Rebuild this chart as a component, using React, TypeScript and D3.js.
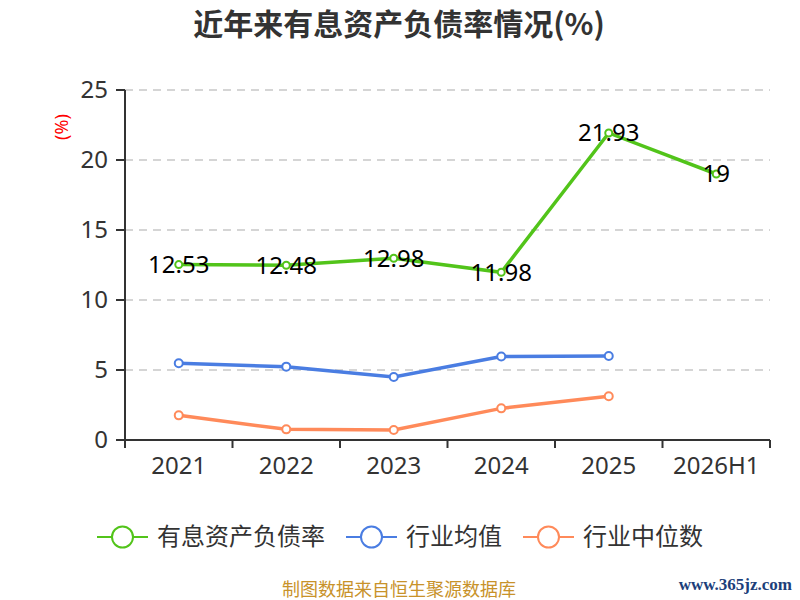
import * as d3 from "d3";

const categories = ["2021", "2022", "2023", "2024", "2025", "2026H1"];
const debtRatio = [12.53, 12.48, 12.98, 11.98, 21.93, 19];
const industryMean = [5.48, 5.24, 4.5, 5.96, 6.0];
const industryMedian = [1.76, 0.76, 0.71, 2.26, 3.12];
const yTicks = [0, 5, 10, 15, 20, 25];

const seriesNames = ["有息资产负债率", "行业均值", "行业中位数"];
const colors = ["#52c41a", "#4a7de2", "#ff8a5a"];

const width = 800;
const height = 600;
const margin = { top: 90, right: 30, bottom: 160, left: 125 };
const font = "'Noto Sans', 'Noto Sans CJK SC', sans-serif";
const cjk = "'Noto Sans CJK SC', 'Noto Sans', sans-serif";

export default function App() {
  const x = d3
    .scaleBand<string>()
    .domain(categories)
    .range([margin.left, width - margin.right]);
  const y = d3
    .scaleLinear()
    .domain([0, 25])
    .range([height - margin.bottom, margin.top]);
  const cx = (i: number) => (x(categories[i]) ?? 0) + x.bandwidth() / 2;

  const line = d3
    .line<number>()
    .x((_, i) => cx(i))
    .y((d) => y(d));

  const series = [debtRatio, industryMean, industryMedian];
  const x0 = margin.left;
  const x1 = width - margin.right;
  const yBase = y(0);

  const legendX = [97, 346, 523];

  return (
    <svg
      width={width}
      height={height}
      style={{ position: "fixed", left: 0, top: 0, background: "#fff" }}
    >
      <text
        x={399}
        y={35}
        textAnchor="middle"
        fontFamily={cjk}
        fontWeight="bold"
        fontSize={30}
        fill="#333"
      >
        近年来有息资产负债率情况(%)
      </text>

      {/* grid */}
      {yTicks
        .filter((t) => t > 0)
        .map((t) => (
          <line
            key={t}
            x1={x0}
            x2={x1}
            y1={y(t)}
            y2={y(t)}
            stroke="#c8c8c8"
            strokeWidth={1.5}
            strokeDasharray="8,6"
          />
        ))}

      {/* y axis */}
      <line x1={x0} x2={x0} y1={y(25)} y2={yBase} stroke="#333" strokeWidth={2} />
      {yTicks.map((t) => (
        <g key={t}>
          <line x1={x0 - 9} x2={x0} y1={y(t)} y2={y(t)} stroke="#333" strokeWidth={2} />
          <text
            x={x0 - 17}
            y={y(t)}
            dy="0.35em"
            textAnchor="end"
            fontFamily={font}
            fontSize={24}
            fill="#333"
          >
            {t}
          </text>
        </g>
      ))}
      <text
        transform={`translate(68,127) rotate(-90)`}
        textAnchor="middle"
        fontFamily={font}
        fontSize={18}
        fill="#ff0000"
      >
        (%)
      </text>

      {/* x axis */}
      <line x1={x0} x2={x1} y1={yBase} y2={yBase} stroke="#333" strokeWidth={2} />
      {[...categories.map((c) => x(c) ?? 0), x1].map((p, i) => (
        <line key={i} x1={p} x2={p} y1={yBase} y2={yBase + 8} stroke="#333" strokeWidth={2} />
      ))}
      {categories.map((c, i) => (
        <text
          key={c}
          x={cx(i)}
          y={yBase + 34}
          textAnchor="middle"
          fontFamily={font}
          fontSize={24}
          fill="#333"
        >
          {c}
        </text>
      ))}

      {/* lines */}
      {series.map((s, k) => (
        <g key={k}>
          <path d={line(s) ?? ""} fill="none" stroke={colors[k]} strokeWidth={3.5} />
          {s.map((v, i) => (
            <circle
              key={i}
              cx={cx(i)}
              cy={y(v)}
              r={k === 0 ? 3.5 : 4}
              fill="#fff"
              stroke={colors[k]}
              strokeWidth={2}
            />
          ))}
        </g>
      ))}

      {/* labels */}
      {debtRatio.map((v, i) => (
        <text
          key={i}
          x={cx(i)}
          y={y(v)}
          dy="0.35em"
          textAnchor="middle"
          fontFamily={font}
          fontSize={24}
          fill="#000"
        >
          {v}
        </text>
      ))}

      {/* legend */}
      {seriesNames.map((n, k) => (
        <g key={n} transform={`translate(${legendX[k]},537)`}>
          <line x1={0} x2={51} y1={0} y2={0} stroke={colors[k]} strokeWidth={2} />
          <circle cx={25.5} cy={0} r={10.5} fill="#fff" stroke={colors[k]} strokeWidth={2} />
          <text
            x={60}
            y={0}
            dy="0.35em"
            fontFamily={cjk}
            fontSize={24}
            fill="#333"
          >
            {n}
          </text>
        </g>
      ))}

      <text
        x={399}
        y={596}
        textAnchor="middle"
        fontFamily={cjk}
        fontSize={18}
        fill="#c8922a"
      >
        制图数据来自恒生聚源数据库
      </text>
      <text
        x={792}
        y={590}
        textAnchor="end"
        fontFamily="'Liberation Serif', serif"
        fontSize={17}
        fontWeight="bold"
        fill="#1d3f7a"
      >
        www.365jz.com
      </text>
    </svg>
  );
}
